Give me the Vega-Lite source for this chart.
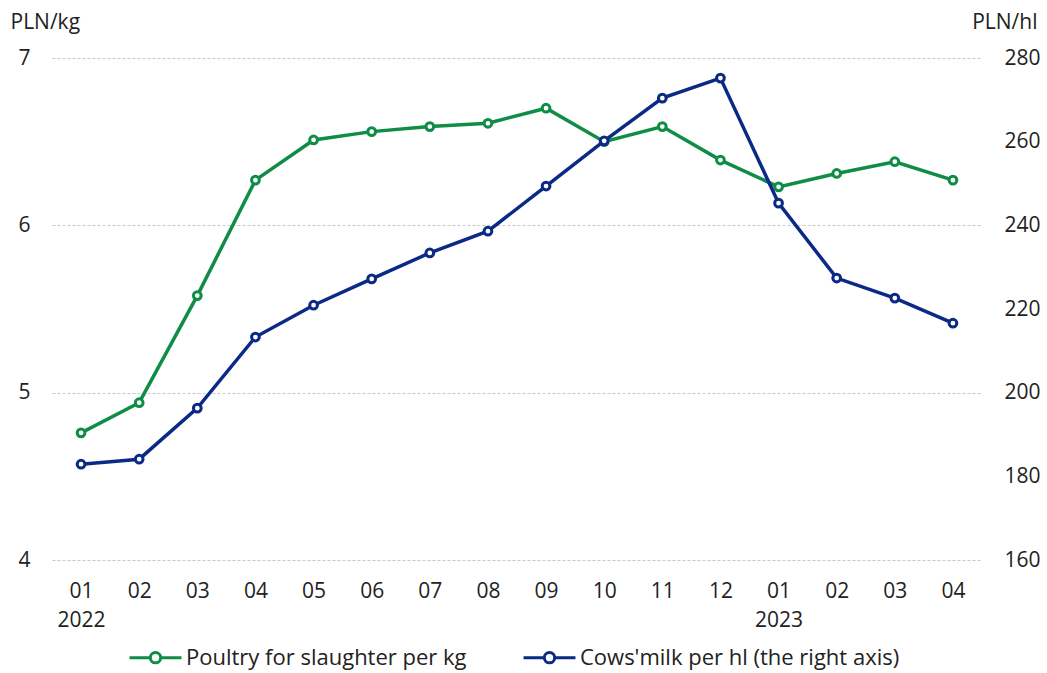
{
  "$schema": "https://vega.github.io/schema/vega-lite/v6.json",
  "width": 930,
  "height": 502,
  "autosize": {"type": "none"},
  "padding": {"left": 52, "top": 58, "right": 65, "bottom": 113},
  "background": "white",
  "config": {
    "view": {"stroke": null},
    "font": "Open Sans",
    "axis": {"labelFont": "Open Sans", "labelFontSize": 21, "labelColor": "#222222", "titleFont": "Open Sans", "titleFontSize": 21, "titleFontWeight": "normal", "titleColor": "#222222"},
    "legend": {"labelFont": "Open Sans", "labelFontSize": 22, "labelColor": "#222222"}
  },
  "data": {"values": [
    {"m": "2022-01", "series": "Poultry for slaughter per kg", "v": 4.76},
    {"m": "2022-02", "series": "Poultry for slaughter per kg", "v": 4.94},
    {"m": "2022-03", "series": "Poultry for slaughter per kg", "v": 5.58},
    {"m": "2022-04", "series": "Poultry for slaughter per kg", "v": 6.27},
    {"m": "2022-05", "series": "Poultry for slaughter per kg", "v": 6.51},
    {"m": "2022-06", "series": "Poultry for slaughter per kg", "v": 6.56},
    {"m": "2022-07", "series": "Poultry for slaughter per kg", "v": 6.59},
    {"m": "2022-08", "series": "Poultry for slaughter per kg", "v": 6.61},
    {"m": "2022-09", "series": "Poultry for slaughter per kg", "v": 6.70},
    {"m": "2022-10", "series": "Poultry for slaughter per kg", "v": 6.50},
    {"m": "2022-11", "series": "Poultry for slaughter per kg", "v": 6.59},
    {"m": "2022-12", "series": "Poultry for slaughter per kg", "v": 6.39},
    {"m": "2023-01", "series": "Poultry for slaughter per kg", "v": 6.23},
    {"m": "2023-02", "series": "Poultry for slaughter per kg", "v": 6.31},
    {"m": "2023-03", "series": "Poultry for slaughter per kg", "v": 6.38},
    {"m": "2023-04", "series": "Poultry for slaughter per kg", "v": 6.27},
    {"m": "2022-01", "series": "Cows'milk per hl (the right axis)", "v": 182.9},
    {"m": "2022-02", "series": "Cows'milk per hl (the right axis)", "v": 184.1},
    {"m": "2022-03", "series": "Cows'milk per hl (the right axis)", "v": 196.3},
    {"m": "2022-04", "series": "Cows'milk per hl (the right axis)", "v": 213.3},
    {"m": "2022-05", "series": "Cows'milk per hl (the right axis)", "v": 220.9},
    {"m": "2022-06", "series": "Cows'milk per hl (the right axis)", "v": 227.2},
    {"m": "2022-07", "series": "Cows'milk per hl (the right axis)", "v": 233.4},
    {"m": "2022-08", "series": "Cows'milk per hl (the right axis)", "v": 238.6},
    {"m": "2022-09", "series": "Cows'milk per hl (the right axis)", "v": 249.4},
    {"m": "2022-10", "series": "Cows'milk per hl (the right axis)", "v": 260.2},
    {"m": "2022-11", "series": "Cows'milk per hl (the right axis)", "v": 270.4},
    {"m": "2022-12", "series": "Cows'milk per hl (the right axis)", "v": 275.2},
    {"m": "2023-01", "series": "Cows'milk per hl (the right axis)", "v": 245.3},
    {"m": "2023-02", "series": "Cows'milk per hl (the right axis)", "v": 227.4},
    {"m": "2023-03", "series": "Cows'milk per hl (the right axis)", "v": 222.6},
    {"m": "2023-04", "series": "Cows'milk per hl (the right axis)", "v": 216.6}
  ]},
  "encoding": {
    "x": {
      "field": "m", "type": "ordinal", "sort": null,
      "scale": {"type": "point", "padding": 0.5},
      "axis": {
        "title": null, "domain": false, "ticks": false, "labelAngle": 0,
        "labelPadding": 20, "labelLineHeight": 29, "labelBaseline": "top",
        "labelExpr": "datum.value == '2022-01' ? ['01', '2022'] : datum.value == '2023-01' ? ['01', '2023'] : slice(datum.value, 5)"
      }
    },
    "color": {
      "field": "series", "type": "nominal",
      "scale": {"domain": ["Poultry for slaughter per kg", "Cows'milk per hl (the right axis)"], "range": ["#0f8d46", "#0b2a86"]},
      "legend": {
        "title": null, "orient": "none", "direction": "horizontal", "legendX": 76, "legendY": 572,
        "symbolType": "M-1,0H-0.2M0.2,0H1M0.2,0A0.2,0.2,0,1,1,-0.2,0A0.2,0.2,0,1,1,0.2,0",
        "symbolSize": 2700, "symbolStrokeWidth": 3, "symbolFillColor": "white",
        "labelOffset": 3, "columnPadding": 50, "labelLimit": 500
      }
    }
  },
  "layer": [
    {
      "transform": [{"filter": "datum.series == 'Poultry for slaughter per kg'"}],
      "mark": {"type": "line", "strokeWidth": 3.5, "point": {"filled": false, "fill": "white", "size": 60, "strokeWidth": 3}},
      "encoding": {
        "y": {
          "field": "v", "type": "quantitative",
          "scale": {"domain": [4, 7], "nice": false, "zero": false},
          "axis": {
            "title": "PLN/kg", "titleAngle": 0, "titleAlign": "left", "titleBaseline": "middle", "titleX": -42, "titleY": -36,
            "values": [4, 5, 6, 7], "domain": false, "ticks": false, "labelPadding": 22,
            "grid": true, "gridColor": "#c8c8c8", "gridDash": [3, 2], "gridWidth": 1
          }
        }
      }
    },
    {
      "transform": [{"filter": "datum.series != 'Poultry for slaughter per kg'"}],
      "mark": {"type": "line", "strokeWidth": 3.5, "point": {"filled": false, "fill": "white", "size": 60, "strokeWidth": 3}},
      "encoding": {
        "y": {
          "field": "v", "type": "quantitative",
          "scale": {"domain": [160, 280], "nice": false, "zero": false},
          "axis": {
            "orient": "right",
            "title": "PLN/hl", "titleAngle": 0, "titleAlign": "right", "titleBaseline": "middle", "titleX": 55, "titleY": -36,
            "values": [160, 180, 200, 220, 240, 260, 280], "domain": false, "ticks": false, "labelPadding": 22, "grid": false
          }
        }
      }
    }
  ],
  "resolve": {"scale": {"y": "independent"}}
}
